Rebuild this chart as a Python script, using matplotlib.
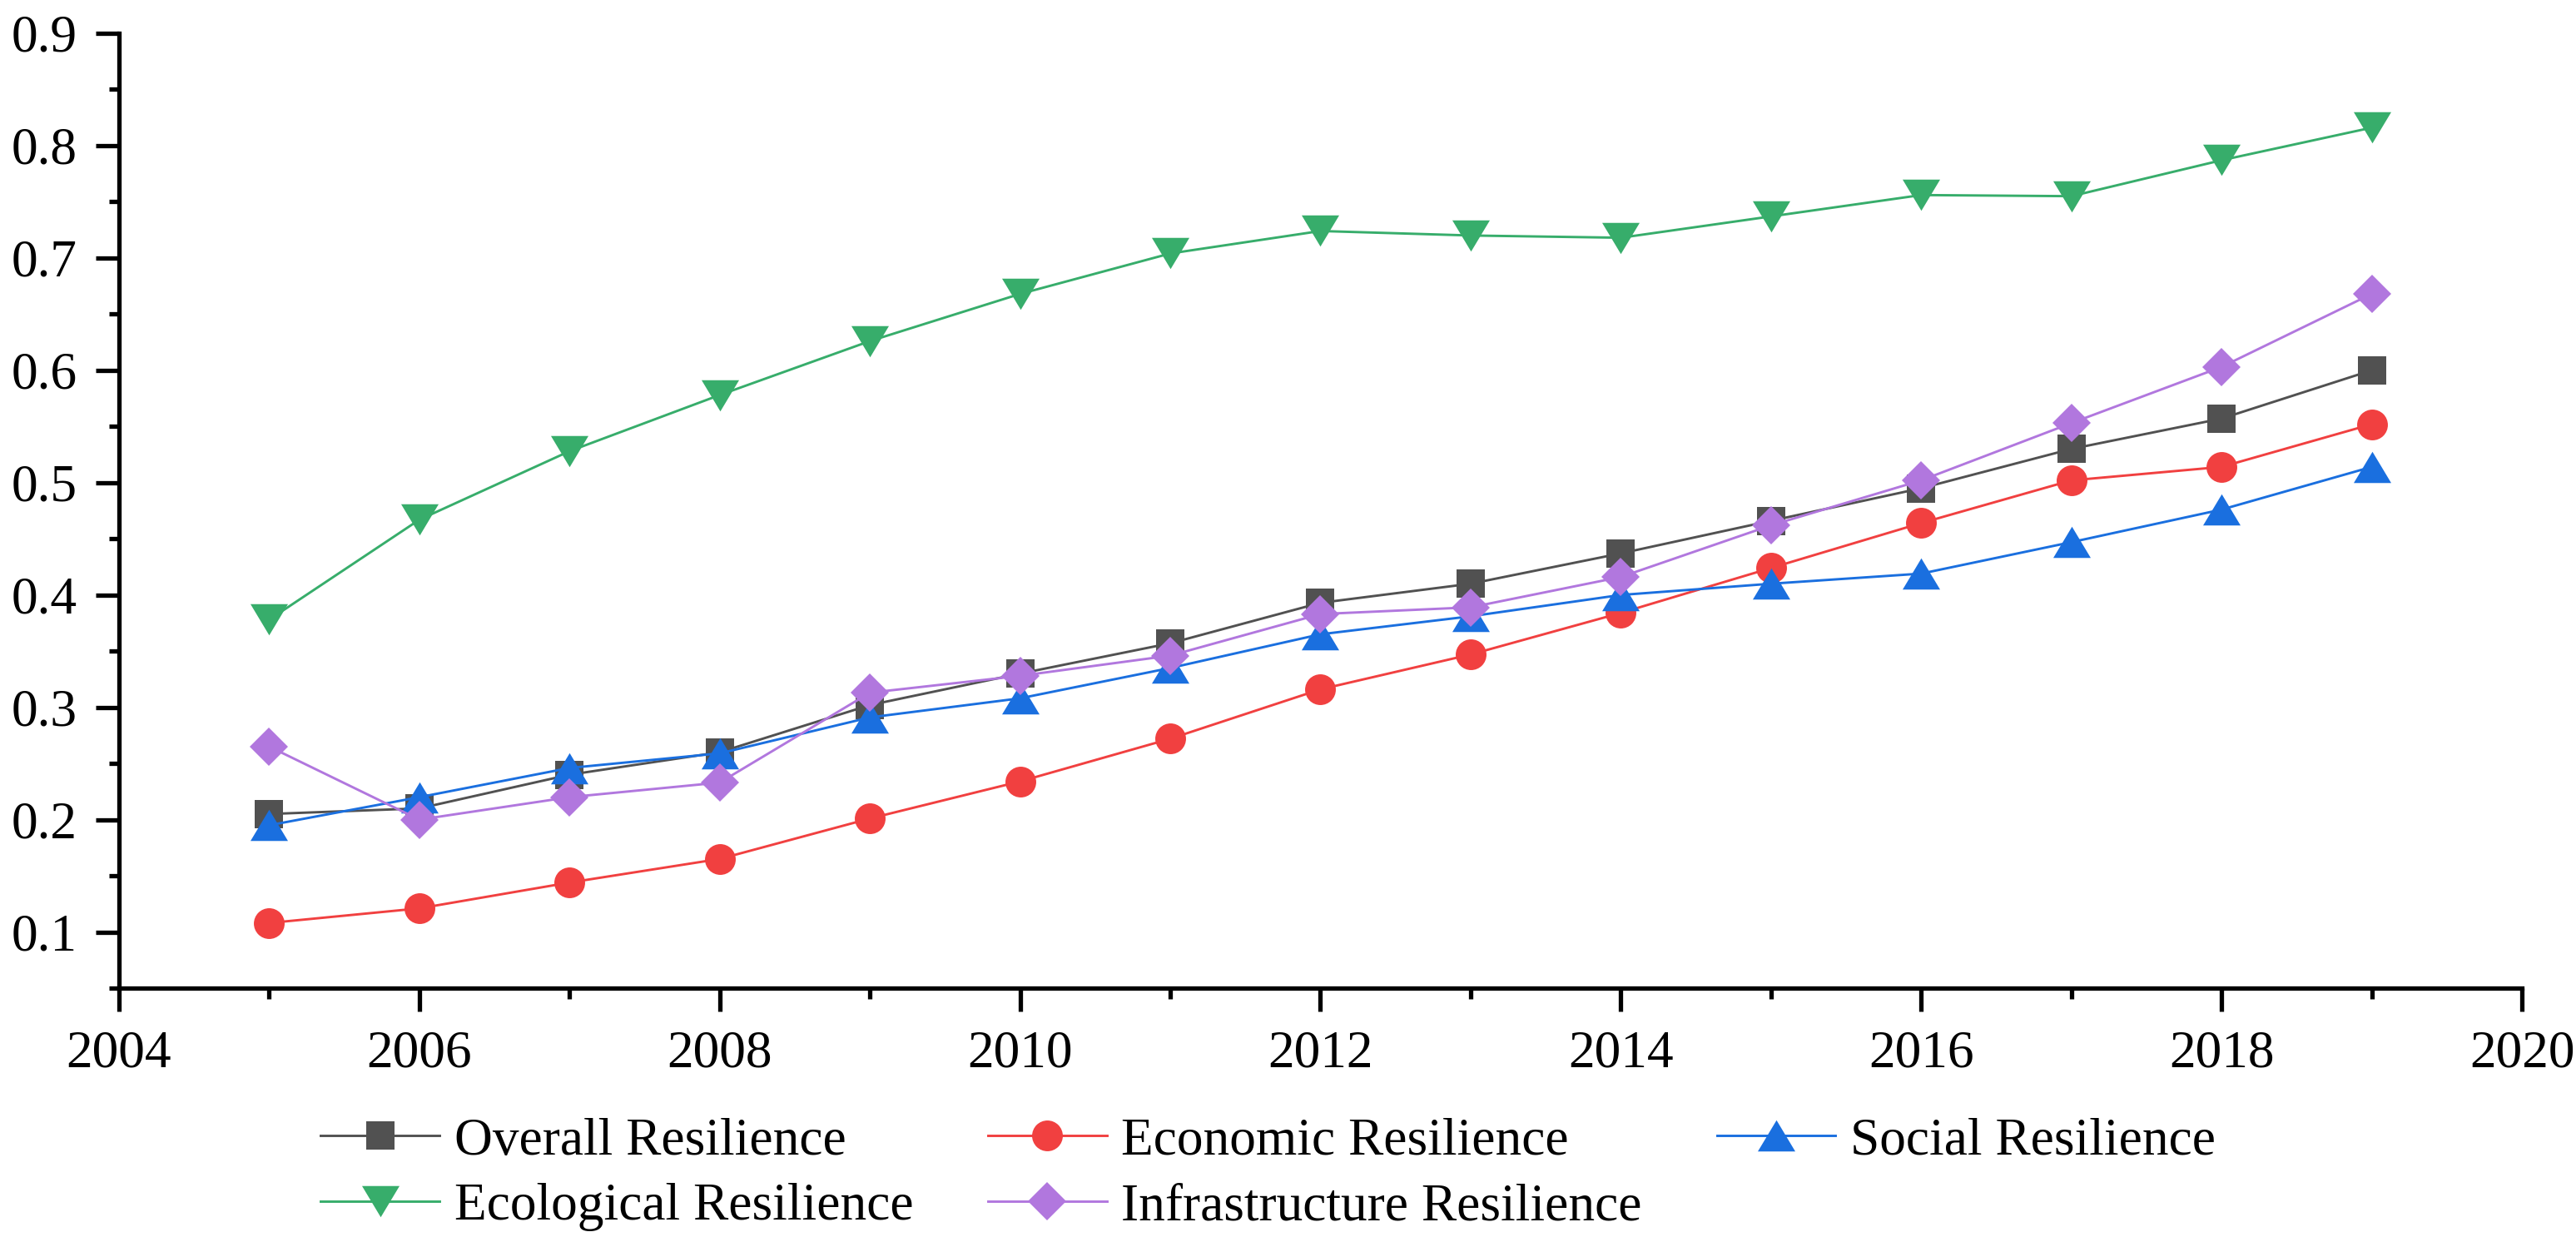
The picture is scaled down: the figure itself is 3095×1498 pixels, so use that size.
import matplotlib.pyplot as plt
from matplotlib.ticker import MultipleLocator, FormatStrFormatter
import numpy as np

plt.rcParams['font.family'] = ['Liberation Serif', 'DejaVu Serif']

years = [2005, 2006, 2007, 2008, 2009, 2010, 2011, 2012, 2013, 2014, 2015, 2016, 2017, 2018, 2019]
overall = [0.205, 0.210, 0.240, 0.260, 0.302, 0.330, 0.357, 0.393, 0.410, 0.437, 0.466, 0.495, 0.530, 0.557, 0.600]
economic = [0.108, 0.121, 0.144, 0.165, 0.201, 0.234, 0.272, 0.316, 0.347, 0.384, 0.424, 0.464, 0.502, 0.514, 0.552]
social = [0.195, 0.220, 0.246, 0.259, 0.291, 0.308, 0.335, 0.365, 0.381, 0.400, 0.410, 0.419, 0.447, 0.476, 0.514]
ecological = [0.378, 0.467, 0.528, 0.578, 0.626, 0.668, 0.704, 0.724, 0.720, 0.718, 0.737, 0.756, 0.755, 0.787, 0.816]
infrastructure = [0.265, 0.200, 0.220, 0.233, 0.313, 0.328, 0.346, 0.383, 0.389, 0.416, 0.462, 0.502, 0.553, 0.603, 0.668]

series = [
    ("Overall Resilience", overall, "#515151", "s", 12.5),
    ("Economic Resilience", economic, "#F14040", "o", 13.3),
    ("Social Resilience", social, "#1A6FDF", [(-1.2, -1), (1.2, -1), (0, 1)], 16.2),
    ("Ecological Resilience", ecological, "#37AD6B", [(-1.2, 1), (1.2, 1), (0, -1)], 16.2),
    ("Infrastructure Resilience", infrastructure, "#B177DE", "D", 11.7),
]

fig = plt.figure(figsize=(15.475, 7.49), dpi=200)
ax = fig.add_axes([0.0462, 0.2076, 0.9328, 0.7657])

lines = []
for name, vals, col, mk, ms in series:
    ln, = ax.plot(years, vals, color=col, marker=mk, markersize=ms, linewidth=1.05,
                  markeredgewidth=0, label=name)
    lines.append(ln)

ax.set_xlim(2004, 2020)
ax.set_ylim(0.05, 0.9)
ax.xaxis.set_major_locator(MultipleLocator(2))
ax.xaxis.set_minor_locator(MultipleLocator(1))
ax.yaxis.set_major_locator(MultipleLocator(0.1))
ax.yaxis.set_minor_locator(MultipleLocator(0.05))
ax.yaxis.set_major_formatter(FormatStrFormatter('%.1f'))

ax.spines['top'].set_visible(False)
ax.spines['right'].set_visible(False)
for s in ['left', 'bottom']:
    ax.spines[s].set_linewidth(1.9)
ax.tick_params(which='major', direction='out', length=10, width=1.9, labelsize=22.8, pad=8)
ax.tick_params(which='minor', direction='out', length=4.5, width=1.9)

# legend fills row by row in the reference
order = [0, 3, 1, 4, 2]
ax.legend([lines[i] for i in order], [series[i][0] for i in order],
          loc='upper left', bbox_to_anchor=(0.1245, 0.104), bbox_transform=fig.transFigure,
          ncol=3, frameon=False, fontsize=22.8, handlelength=2.25, handletextpad=0.28,
          columnspacing=1.42, labelspacing=0.32, borderpad=0, borderaxespad=0)

fig.savefig("out.png", dpi=200)
